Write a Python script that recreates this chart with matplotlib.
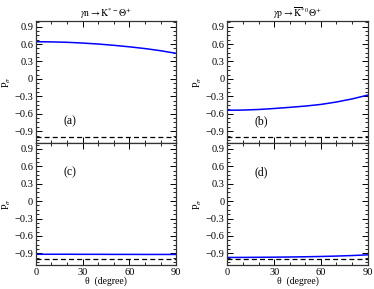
import numpy as np
import matplotlib
matplotlib.use("Agg")
import matplotlib.pyplot as plt
from matplotlib.ticker import MultipleLocator

plt.rcParams['font.family'] = 'Liberation Serif'
plt.rcParams['mathtext.fontset'] = 'stix'

# data
theta = [0, 10, 20, 30, 40, 50, 60, 70, 80, 90]
p_a = [0.64, 0.637, 0.63, 0.617, 0.6, 0.578, 0.552, 0.522, 0.485, 0.44]
p_b = [-0.54, -0.537, -0.527, -0.51, -0.49, -0.468, -0.44, -0.398, -0.345, -0.28]
p_c = [-0.915, -0.915, -0.915, -0.916, -0.916, -0.917, -0.917, -0.918, -0.918, -0.918]
p_d = [-0.97, -0.969, -0.967, -0.965, -0.962, -0.958, -0.953, -0.946, -0.937, -0.925]
limit = -1.0
titles = [r"$\gamma\mathrm{n}\rightarrow\mathrm{K}^{*-}\Theta^{+}$",
          r"$\gamma\mathrm{p}\rightarrow\overline{\mathrm{K}}^{*0}\Theta^{+}$"]
labels = ["(a)", "(b)", "(c)", "(d)"]

fig = plt.figure(figsize=(3.74, 2.89), dpi=100)
lefts = [0.096, 0.608]
bottoms = [0.506, 0.083]
w = 0.375
h = 0.422
series = [[p_a, p_b], [p_c, p_d]]
k = 0
for r in range(2):
    for c in range(2):
        ax = fig.add_axes([lefts[c], bottoms[r], w, h])
        ax.plot(theta, series[r][c], color='#0000ff', lw=1.1)
        ax.axhline(limit, color='black', lw=0.9, ls=(0, (4, 2.5)))
        ax.set_xlim(0, 90)
        ax.set_ylim(-1.1, 1.0)
        ax.xaxis.set_major_locator(MultipleLocator(30))
        ax.xaxis.set_minor_locator(MultipleLocator(10))
        ax.set_yticks([-0.9, -0.6, -0.3, 0, 0.3, 0.6, 0.9])
        ax.set_yticklabels(["\u22120.9", "\u22120.6", "\u22120.3", "0", "0.3", "0.6", "0.9"])
        ax.yaxis.set_minor_locator(MultipleLocator(0.075))
        ax.tick_params(which='both', direction='in', top=True, right=True, labelsize=7.5, pad=2)
        ax.tick_params(which='major', length=4, width=0.7)
        ax.tick_params(which='minor', length=2, width=0.6)
        for s in ax.spines.values():
            s.set_linewidth(0.9)
            s.set_color('#333333')
        ax.set_ylabel(r"P$_{\sigma}$", fontsize=7.5, labelpad=1)
        if r == 0:
            ax.set_xticklabels([])
            ax.set_title(titles[c], fontsize=7, pad=3)
            ax.text(22, -0.73, labels[k], fontsize=8.5, ha='center', va='center')
        else:
            ax.set_xlabel("\u03b8  (degree)", fontsize=7, labelpad=0)
            ax.text(22, 0.5, labels[k], fontsize=8.5, ha='center', va='center')
        k += 1

fig.savefig("out.png", dpi=100)
